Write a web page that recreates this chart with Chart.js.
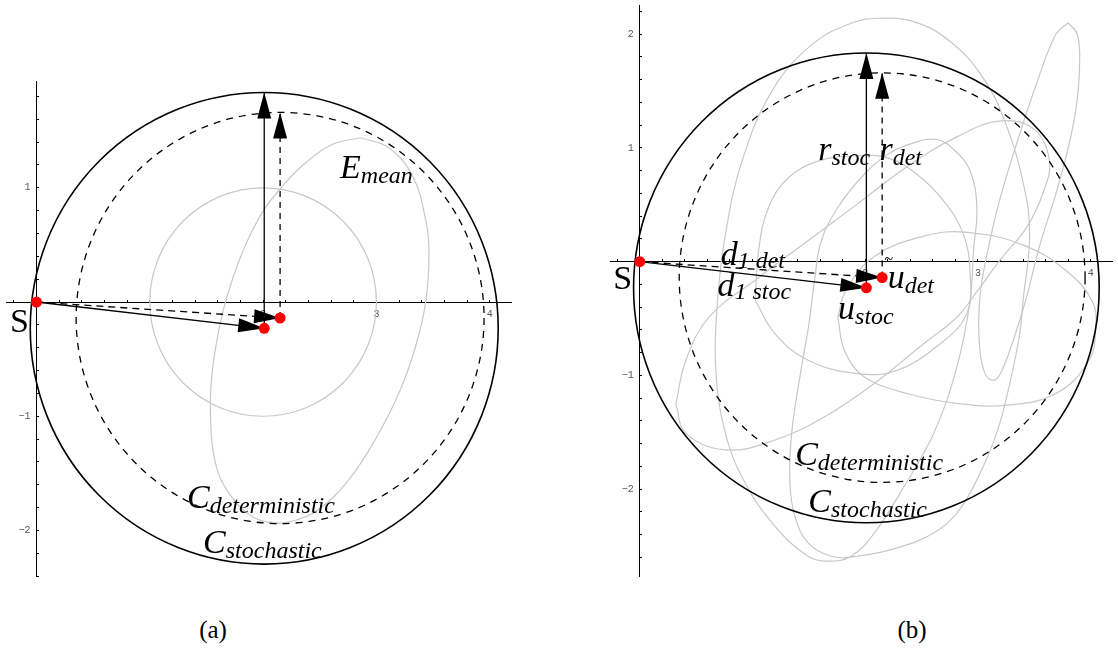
<!DOCTYPE html>
<html>
<head>
<meta charset="utf-8">
<title>Deterministic vs stochastic circles</title>
<script src="https://cdn.jsdelivr.net/npm/chart.js"></script>
<style>
    body {
        margin: 0;
        background: #fff;
        width: 1118px;
        height: 653px;
        position: relative;
        overflow: hidden;
    }

    canvas {
        position: absolute;
        top: 0;
    }

    #panelA { left: 0; }
    #panelB { left: 578px; }

    .caption {
        position: absolute;
        top: 615px;
        width: 100px;
        text-align: center;
        font-family: 'Liberation Serif', serif;
        font-size: 25px;
        line-height: 30px;
        color: #000;
    }
</style>
</head>
<body>

<canvas id="panelA" width="540" height="600"></canvas>
<canvas id="panelB" width="540" height="600"></canvas>
<div class="caption" style="left:163px">(a)</div>
<div class="caption" style="left:862px">(b)</div>

<script>
// shared construction, same in both panels
const sourcePt = [0, 0];
const uStoc = [2.01, -0.23];
const uDet = [2.15, -0.14];
const rStoc = 2.065;
const rDet = 1.80;

// axis ranges and tick labels
const xRangeA = [-0.269, 4.194];
const yRangeA = [-2.405, 1.929];
const xRangeB = [-0.264, 4.193];
const yRangeB = [-2.763, 2.252];
const minorStep = 0.2;
const xTickLabels = [2, 3, 4];
const yTickLabelsA = [1, -1, -2];
const yTickLabelsB = [2, 1, -1, -2];

// panel (a): reference circle and the mean trajectory
const refCircle = { c: [2, 0], r: 1 };
const eMean = [
    [2.86, 1.438], [3.11, 1.35], [3.32, 1.10], [3.435, 0.72], [3.464, 0.43],
    [3.435, 0.0], [3.346, -0.387], [3.20, -0.795], [2.99, -1.204], [2.757, -1.554],
    [2.49, -1.817], [2.256, -1.919], [2.11, -1.934], [1.90, -1.875], [1.697, -1.671],
    [1.579, -1.408], [1.535, -0.97], [1.55, -0.62], [1.61, -0.241], [1.682, 0.05],
    [1.815, 0.43], [1.99, 0.78], [2.17, 1.014], [2.375, 1.219], [2.61, 1.379], [2.86, 1.438]
];

// panel (b): stochastic trajectory, split in loops
const trajMain = [
    [3.40, -0.34], [3.458, 0.242], [3.40, 0.70], [3.25, 1.205], [3.047, 1.614],
    [2.754, 1.935], [2.432, 2.11], [2.124, 2.14], [1.875, 2.096], [1.523, 1.906],
    [1.171, 1.497], [0.907, 0.884], [0.76, 0.242], [0.69, -0.34], [0.673, -0.925],
    [0.76, -1.509], [0.936, -1.947], [1.2, -2.326], [1.493, -2.589], [1.669, -2.633],
    [1.875, -2.589], [2.08, -2.385], [2.344, -1.976], [2.607, -1.509], [2.813, -0.925],
    [2.93, -0.342], [2.96, 0.096], [2.99, 0.476], [2.93, 0.797], [2.783, 0.987],
    [2.637, 1.074], [2.43, 1.045], [2.197, 0.943], [1.963, 0.738], [1.757, 0.476],
    [1.61, 0.184], [1.552, -0.15], [1.50, -0.55], [1.435, -0.925], [1.347, -1.509],
    [1.332, -1.947], [1.376, -2.239], [1.493, -2.472], [1.698, -2.589], [1.933, -2.589],
    [2.285, -2.516], [2.607, -2.385], [2.813, -2.21], [2.99, -1.918], [3.165, -1.509],
    [3.282, -1.071], [3.37, -0.633], [3.40, -0.34]
];
const trajTilted = [
    [0.32, -1.25], [0.409, -0.867], [0.614, -0.488], [1.04, -0.15], [1.48, 0.176],
    [1.928, 0.506], [2.371, 0.835], [2.816, 1.099], [3.2, 1.237], [3.497, 1.165],
    [3.634, 0.884], [3.575, 0.60], [3.43, 0.30], [3.2, 0.02], [3.0, -0.25],
    [2.813, -0.488], [2.52, -0.72], [2.08, -1.071], [1.64, -1.363], [1.2, -1.567],
    [0.76, -1.655], [0.409, -1.509], [0.32, -1.25]
];
const trajLowRight = [
    [1.757, -0.488], [1.816, -0.78], [1.992, -1.013], [2.373, -1.159], [2.813, -1.246],
    [3.252, -1.261], [3.692, -1.159], [3.985, -0.867], [4.044, -0.575], [4.015, -0.35],
    [3.793, -0.088], [3.408, 0.143], [2.905, 0.258], [2.52, 0.225], [2.076, 0.044],
    [1.83, -0.25], [1.757, -0.488]
];
const trajInner = [
    [1.025, -0.341], [1.054, 0.096], [1.142, 0.476], [1.318, 0.738], [1.582, 0.884],
    [1.875, 0.928], [2.197, 0.913], [2.46, 0.767], [2.695, 0.534], [2.87, 0.242],
    [2.93, -0.1], [2.9, -0.459], [2.666, -0.72], [2.285, -0.955], [1.933, -0.984],
    [1.493, -0.867], [1.2, -0.634], [1.025, -0.341]
];
const trajNarrow = [
    [3.80, 2.10], [3.883, 1.994], [3.90, 1.70], [3.87, 1.35], [3.80, 1.0],
    [3.69, 0.593], [3.55, 0.15], [3.42, -0.35], [3.31, -0.70], [3.20, -0.98],
    [3.135, -1.042], [3.06, -0.98], [3.01, -0.69], [3.018, -0.30], [3.077, 0.05],
    [3.19, 0.534], [3.34, 1.03], [3.516, 1.556], [3.69, 2.0], [3.80, 2.10]
];

const pts = arr => arr.map(([x, y]) => ({ x, y }));

const arrows = [
    { from: sourcePt, to: uStoc, dash: [] },
    { from: sourcePt, to: uDet, dash: [7, 5] },
    { from: uStoc, to: [uStoc[0], uStoc[1] + rStoc], dash: [] },
    { from: uDet, to: [uDet[0], uDet[1] + rDet], dash: [6, 5] }
];

const blackCircles = [
    { c: uStoc, r: rStoc, width: 1.6, dash: [] },
    { c: uDet, r: rDet, width: 1.3, dash: [7, 6] }
];

// text labels (main letter + subscript), anchored in data units
const labelsA = [
    { main: 'S', upright: true, x: -0.234, y: -0.263 },
    { main: 'E', sub: 'mean', x: 2.679, y: 1.083 },
    { main: 'C', sub: 'deterministic', x: 1.328, y: -1.806 },
    { main: 'C', sub: 'stochastic', x: 1.47, y: -2.2 }
];
const labelsB = [
    { main: 'S', upright: true, x: -0.235, y: -0.243 },
    { main: 'd', sub: '1 det', x: 0.718, y: -0.025, subDy: 3 },
    { main: 'd', sub: '1 stoc', x: 0.689, y: -0.302, subDy: 3 },
    { main: 'r', sub: 'stoc', x: 1.583, y: 0.895 },
    { main: 'r', sub: 'det', x: 2.126, y: 0.895 },
    { main: 'u', sub: 'det', x: 2.199, y: -0.229 },
    { main: 'u', sub: 'stoc', x: 1.759, y: -0.506 },
    { main: 'C', sub: 'deterministic', x: 1.378, y: -1.791 },
    { main: 'C', sub: 'stochastic', x: 1.495, y: -2.2 },
    { main: '~', upright: true, size: 16, x: 2.17, y: -0.02 }
];

function drawHead(ctx, x0, y0, x1, y1) {
    const a = Math.atan2(y1 - y0, x1 - x0);
    const len = 26, half = 7;
    const bx = x1 - len * Math.cos(a), by = y1 - len * Math.sin(a);
    ctx.beginPath();
    ctx.moveTo(x1, y1);
    ctx.lineTo(bx + half * Math.sin(a), by - half * Math.cos(a));
    ctx.lineTo(bx - half * Math.sin(a), by + half * Math.cos(a));
    ctx.closePath();
    ctx.fill();
}

function drawCircle(ctx, xs, ys, c) {
    const cx = xs.getPixelForValue(c.c[0]);
    const cy = ys.getPixelForValue(c.c[1]);
    const rx = Math.abs(xs.getPixelForValue(c.c[0] + c.r) - cx);
    const ry = Math.abs(ys.getPixelForValue(c.c[1] + c.r) - cy);
    ctx.beginPath();
    ctx.ellipse(cx, cy, rx, ry, 0, 0, Math.PI * 2);
    ctx.stroke();
}

const overlay = {
    id: 'overlay',
    beforeDatasetsDraw(chart, args, opts) {
        chart.$circlesDone = false;
        chart.$headsDone = false;
        const { ctx, scales: { x, y } } = chart;
        ctx.save();
        ctx.strokeStyle = '#c8c8c8';
        ctx.lineWidth = 1.2;
        (opts.grayCircles || []).forEach(c => drawCircle(ctx, x, y, c));
        ctx.restore();
    },
    beforeDatasetDraw(chart, args) {
        const ds = chart.data.datasets[args.index];
        const { ctx, scales: { x, y } } = chart;
        if (ds.order <= 2 && !chart.$circlesDone) {
            chart.$circlesDone = true;
            ctx.save();
            ctx.strokeStyle = '#000';
            blackCircles.forEach(c => {
                ctx.lineWidth = c.width;
                ctx.setLineDash(c.dash);
                drawCircle(ctx, x, y, c);
            });
            ctx.restore();
        }
        if (ds.order <= 1 && !chart.$headsDone) {
            chart.$headsDone = true;
            ctx.save();
            ctx.fillStyle = '#000';
            arrows.forEach(a => drawHead(ctx,
                x.getPixelForValue(a.from[0]), y.getPixelForValue(a.from[1]),
                x.getPixelForValue(a.to[0]), y.getPixelForValue(a.to[1])));
            ctx.restore();
        }
    },
    afterDatasetsDraw(chart, args, opts) {
        const { ctx, scales: { x, y } } = chart;
        ctx.save();
        ctx.fillStyle = '#000';
        ctx.textBaseline = 'alphabetic';
        ctx.textAlign = 'left';
        (opts.labels || []).forEach(l => {
            const px = x.getPixelForValue(l.x);
            const py = y.getPixelForValue(l.y);
            const size = l.size || 34;
            ctx.font = (l.upright ? '' : 'italic ') + size + 'px "Liberation Serif"';
            ctx.fillText(l.main, px, py);
            if (l.sub) {
                const w = ctx.measureText(l.main).width;
                ctx.font = 'italic 24px "Liberation Serif"';
                ctx.fillText(l.sub, px + w, py + (l.subDy || 5));
            }
        });
        ctx.restore();
    }
};

function tickLabel(v, list) {
    const r = Math.round(v);
    if (Math.abs(v - r) > 1e-6 || !list.includes(r)) return '';
    return String(r).replace('-', '\u2212');
}

// minor ticks every 0.2 inside the axis range
function stepTicks(scale) {
    const out = [];
    for (let k = Math.ceil(scale.min / minorStep - 1e-9); k * minorStep <= scale.max + 1e-9; k++) {
        out.push({ value: +(k * minorStep).toFixed(6) });
    }
    scale.ticks = out;
}

function noPadding(scale) {
    scale.paddingTop = 0;
    scale.paddingBottom = 0;
    scale.paddingLeft = 0;
    scale.paddingRight = 0;
}

function scalesFor(xr, yr, yLabels) {
    const tickFont = { family: 'Liberation Mono', size: 10 };
    return {
        x: {
            type: 'linear', min: xr[0], max: xr[1],
            position: { y: 0 },
            afterBuildTicks: stepTicks,
            afterFit: noPadding,
            ticks: {
                autoSkip: false, maxRotation: 0, padding: 9,
                font: tickFont, color: '#555',
                callback: v => tickLabel(v, xTickLabels)
            },
            grid: { drawOnChartArea: false, drawTicks: true, tickLength: -3, color: '#000' },
            border: { display: true, color: '#000', width: 1 }
        },
        y: {
            type: 'linear', min: yr[0], max: yr[1],
            position: { x: 0 },
            afterBuildTicks: stepTicks,
            afterFit: noPadding,
            ticks: {
                autoSkip: false, padding: 3,
                font: tickFont, color: '#555',
                callback: v => {
                    const s = tickLabel(v, yLabels);
                    return s ? s + ' ' : '';
                }
            },
            grid: { drawOnChartArea: false, drawTicks: true, tickLength: -3, color: '#000' },
            border: { display: true, color: '#000', width: 1 }
        }
    };
}

function baseDatasets() {
    const list = arrows.map(a => ({
        data: pts([a.from, a.to]),
        showLine: true,
        borderColor: '#000',
        borderWidth: 1.3,
        borderDash: a.dash,
        pointRadius: 0,
        order: 2
    }));
    list.push({
        data: pts([sourcePt, uStoc, uDet]),
        showLine: false,
        pointRadius: 5.5,
        pointBackgroundColor: '#ff0000',
        pointBorderWidth: 0,
        order: 1
    });
    return list;
}

function grayDataset(arr) {
    return {
        data: pts(arr),
        showLine: true,
        borderColor: '#c8c8c8',
        borderWidth: 1.2,
        tension: 0.4,
        pointRadius: 0,
        order: 3
    };
}

function makePanel(id, cfg) {
    return new Chart(document.getElementById(id), {
        type: 'scatter',
        data: { datasets: cfg.curves.map(grayDataset).concat(baseDatasets()) },
        options: {
            responsive: false,
            animation: false,
            layout: { padding: cfg.padding },
            plugins: {
                legend: { display: false },
                tooltip: { enabled: false },
                overlay: { labels: cfg.labels, grayCircles: cfg.grayCircles }
            },
            scales: scalesFor(cfg.xr, cfg.yr, cfg.yLabels)
        },
        plugins: [overlay]
    });
}

makePanel('panelA', {
    curves: [eMean],
    grayCircles: [refCircle],
    labels: labelsA,
    xr: xRangeA, yr: yRangeA, yLabels: yTickLabelsA,
    padding: { left: 6, right: 28.3, top: 81.7, bottom: 23.3 }
});

makePanel('panelB', {
    curves: [trajMain, trajTilted, trajLowRight, trajInner, trajNarrow],
    grayCircles: [],
    labels: labelsB,
    xr: xRangeB, yr: yRangeB, yLabels: yTickLabelsB,
    padding: { left: 32, right: 1.3, top: 3.3, bottom: 24 }
});
</script>

</body>
</html>
